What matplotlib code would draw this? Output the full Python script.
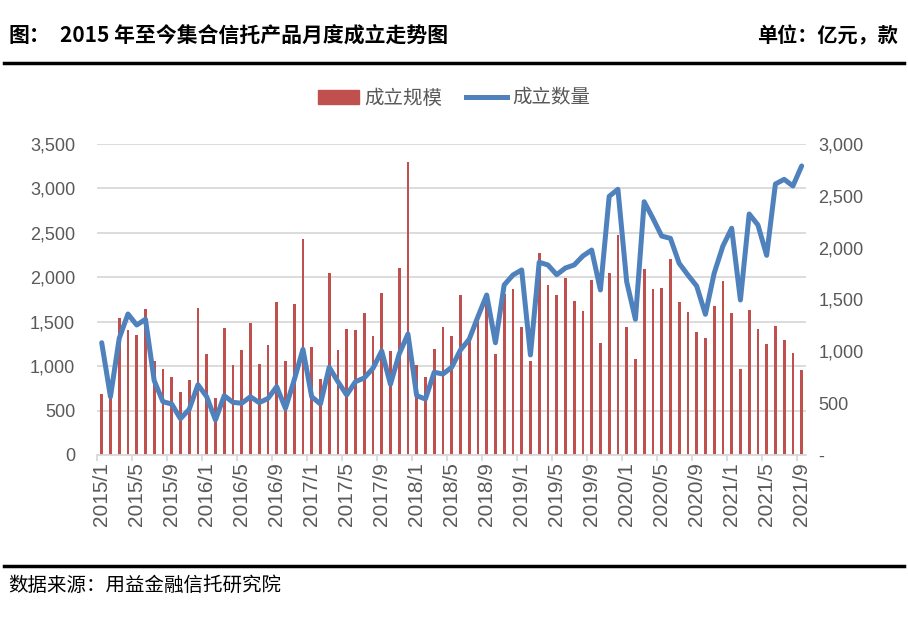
import matplotlib.pyplot as plt
from matplotlib.lines import Line2D
from matplotlib.patches import Patch
from matplotlib.ticker import FuncFormatter

plt.rcParams['font.family'] = ['Noto Sans CJK SC', 'DejaVu Sans']

months = [f'{y}/{m}' for y in range(2015, 2022) for m in range(1, 13)][:81]

# 成立规模 (亿元)
scale = [690, 650, 1540, 1410, 1350, 1645, 1060, 970, 880, 710, 845, 1655,
         1135, 640, 1430, 1015, 1180, 1485, 1025, 1240, 1720, 1060, 1700, 2430,
         1215, 855, 2050, 1180, 1420, 1405, 1600, 1340, 1825, 1170, 2105, 3300,
         1015, 880, 1195, 1440, 1340, 1800, 1285, 1555, 1700, 1135, 1810, 1870,
         1446, 1058, 2273, 1913, 1800, 1992, 1733, 1620, 1969, 1260, 2048, 2475,
         1440, 1080, 2093, 1868, 1879, 2205, 1721, 1609, 1384, 1317, 1677, 1958,
         1598, 968, 1632, 1418, 1249, 1452, 1294, 1148, 956]

# 成立数量 (款)
count = [1083, 562, 1125, 1360, 1254, 1309, 717, 514, 492, 350, 441, 678,
         562, 338, 572, 508, 499, 562, 505, 545, 659, 450, 723, 1019,
         562, 492, 846, 707, 579, 707, 743, 836, 1003, 682, 974, 1167,
         572, 540, 798, 781, 846, 1013, 1116, 1334, 1543, 1083, 1640, 1736,
         1785, 965, 1859, 1833, 1739, 1804, 1833, 1920, 1977, 1592, 2495, 2563,
         1672, 1309, 2443, 2283, 2112, 2090, 1849, 1736, 1630, 1357, 1753, 2016,
         2187, 1495, 2325, 2219, 1926, 2614, 2659, 2595, 2788]

bar_color = '#c0504d'
line_color = '#4f81bd'
grey = '#595959'
grid = '#d9d9d9'

fig = plt.figure(figsize=(9.08, 6.22), dpi=100)
ax = fig.add_axes([0.1072, 0.2685, 0.7805, 0.5])
ax2 = ax.twinx()

x = list(range(len(months)))
ax.bar(x, scale, width=0.32, color=bar_color, zorder=2)
ax2.plot(x, count, color=line_color, lw=3.6, zorder=3,
         solid_joinstyle='round', solid_capstyle='round')

ax.set_xlim(-0.5, len(months) - 0.5)
ax.set_ylim(0, 3500)
ax2.set_ylim(0, 3000)
ax.set_yticks(range(0, 3501, 500))
ax2.set_yticks(range(0, 3001, 500))
ax.yaxis.set_major_formatter(FuncFormatter(lambda v, p: f'{int(v):,}'))
ax2.yaxis.set_major_formatter(FuncFormatter(lambda v, p: f'{int(v):,}' if v > 0 else '-'))
ax.grid(axis='y', color=grid, lw=1.3, zorder=0)
ax.set_axisbelow(True)

for a in (ax, ax2):
    for s in a.spines.values():
        s.set_visible(False)
ax.spines['bottom'].set_visible(True)
ax.spines['bottom'].set_color(grid)
ax.spines['bottom'].set_linewidth(1.3)

ax.tick_params(axis='y', length=0, pad=16, labelsize=13, labelcolor=grey)
ax2.tick_params(axis='y', length=0, pad=9, labelsize=13, labelcolor=grey)
for lab in ax.get_yticklabels() + ax2.get_yticklabels():
    lab.set_family('Liberation Sans')

# tick marks at category boundaries, labels at category centres
ax.set_xticks([i - 0.5 for i in range(0, len(months), 4)])
ax.set_xticklabels([])
ax.tick_params(axis='x', which='major', length=4, width=1.3, color=grid)
ax.set_xticks(range(0, len(months), 4), minor=True)
ax.set_xticklabels(months[::4], minor=True, rotation=90, fontsize=15,
                   color=grey, family='Liberation Sans')
ax.tick_params(axis='x', which='minor', length=0, pad=5)

handles = [Patch(color=bar_color, label='成立规模'),
           Line2D([], [], color=line_color, lw=3.6, label='成立数量')]
fig.legend(handles=handles, loc='center', bbox_to_anchor=(0.5, 1 - 98 / 622),
           ncol=2, frameon=False, fontsize=14, labelcolor=grey,
           handlelength=2.1, handletextpad=0.3, columnspacing=1.2)

fig.text(8 / 908, 1 - 36 / 622, '图：', fontsize=15, fontweight='bold', va='center')
fig.text(60 / 908, 1 - 36 / 622, '2015 年至今集合信托产品月度成立走势图',
         fontsize=15, fontweight='bold', va='center')
fig.text(898 / 908, 1 - 36 / 622, '单位：亿元，款', fontsize=14.5,
         fontweight='bold', va='center', ha='right')
fig.add_artist(Line2D([4 / 908, 904 / 908], [1 - 63 / 622] * 2, color='black', lw=2.5))
fig.add_artist(Line2D([4 / 908, 904 / 908], [1 - 566 / 622] * 2, color='black', lw=2.5))
fig.text(8 / 908, 1 - 585 / 622, '数据来源：用益金融信托研究院', fontsize=14, va='center')

fig.savefig('out.png', dpi=100)
